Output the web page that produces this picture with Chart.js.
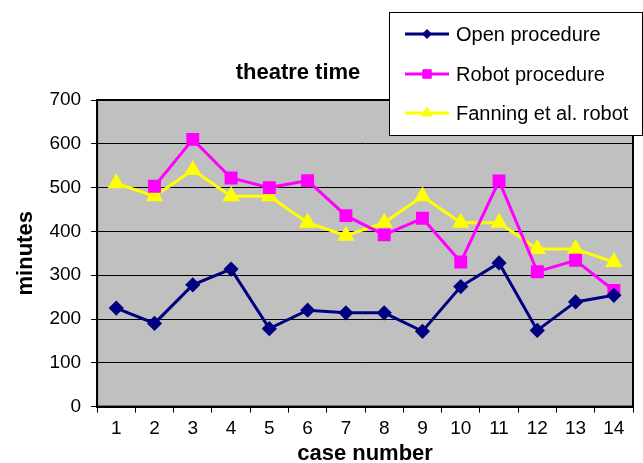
<!DOCTYPE html>
<html>
<head>
<meta charset="utf-8">
<script src="https://cdn.jsdelivr.net/npm/chart.js@4"></script>
<style>
  html, body { margin: 0; padding: 0; background: #fff; }
  #wrap { width: 643px; height: 463px; }
</style>
</head>
<body>
<div id="wrap"><canvas id="theatreChart" width="643" height="463"></canvas></div>
<script>
const caseNumbers = ["1", "2", "3", "4", "5", "6", "7", "8", "9", "10", "11", "12", "13", "14"];
const openProcedure = [225, 190, 278, 314, 178, 220, 214, 214, 172, 274, 328, 174, 239, 254];
const robotProcedure = [null, 503, 610, 522, 500, 516, 436, 392, 430, 330, 515, 308, 334, 265];
const fanningRobot = [510, 480, 540, 480, 480, 420, 390, 420, 480, 420, 420, 360, 360, 330];
const yTicks = [0, 100, 200, 300, 400, 500, 600, 700];

const FONT = "'Liberation Sans', Arial, sans-serif";

// grey plot area + frame, title and boxed legend like the original
const excelLook = {
  id: "excelLook",
  beforeDraw(chart) {
    const { ctx, chartArea: a } = chart;
    ctx.save();
    ctx.fillStyle = "#c0c0c0";
    ctx.fillRect(a.left, a.top, a.right - a.left, a.bottom - a.top);
    ctx.restore();
  },
  afterDraw(chart) {
    const { ctx, chartArea: a } = chart;
    ctx.save();
    ctx.strokeStyle = "#000";
    ctx.lineWidth = 2;
    ctx.strokeRect(a.left, a.top, a.right - a.left, a.bottom - a.top);

    ctx.fillStyle = "#000";
    ctx.font = "bold 22px " + FONT;
    ctx.textAlign = "center";
    ctx.textBaseline = "middle";
    ctx.fillText("theatre time", 298, 73);

    // legend box
    const bx = 389, by = 12, bw = 253, bh = 123;
    ctx.fillStyle = "#fff";
    ctx.fillRect(bx, by, bw, bh);
    ctx.lineWidth = 1;
    ctx.strokeStyle = "#000";
    ctx.strokeRect(bx + 0.5, by + 0.5, bw, bh);

    const rows = [34, 74, 113];
    chart.data.datasets.forEach((ds, i) => {
      const y = rows[i];
      ctx.strokeStyle = ds.borderColor;
      ctx.lineWidth = 3;
      ctx.beginPath();
      ctx.moveTo(405, y);
      ctx.lineTo(449, y);
      ctx.stroke();
      ctx.fillStyle = ds.pointBackgroundColor;
      ctx.strokeStyle = ds.borderColor;
      ctx.lineWidth = 1;
      Chart.helpers.drawPoint(ctx, {
        pointStyle: ds.pointStyle, radius: ds.pointRadius - 1, borderWidth: 1, rotation: 0
      }, 427, y);
      ctx.fillStyle = "#000";
      ctx.font = "20px " + FONT;
      ctx.textAlign = "left";
      ctx.fillText(ds.label, 456, y + 1);
    });
    ctx.restore();
  }
};

new Chart(document.getElementById("theatreChart"), {
  type: "line",
  data: {
    labels: caseNumbers,
    datasets: [{
      label: "Open procedure",
      data: openProcedure,
      borderColor: "#000080",
      backgroundColor: "#000080",
      pointBackgroundColor: "#000080",
      pointStyle: "rectRot",
      pointRadius: 5.5,
      borderWidth: 3,
      tension: 0
    }, {
      label: "Robot procedure",
      data: robotProcedure,
      borderColor: "#ff00ff",
      backgroundColor: "#ff00ff",
      pointBackgroundColor: "#ff00ff",
      pointStyle: "rect",
      pointRadius: 7,
      borderWidth: 3,
      tension: 0
    }, {
      label: "Fanning et al. robot",
      data: fanningRobot,
      borderColor: "#ffff00",
      backgroundColor: "#ffff00",
      pointBackgroundColor: "#ffff00",
      pointStyle: "triangle",
      pointRadius: 7,
      borderWidth: 3,
      tension: 0
    }]
  },
  options: {
    responsive: false,
    animation: false,
    layout: { padding: { top: 100, right: 6, left: 13, bottom: 0 } },
    plugins: {
      legend: { display: false },
      title: { display: false },
      tooltip: { enabled: false }
    },
    elements: { point: { borderWidth: 1 } },
    scales: {
      x: {
        offset: true,
        grid: { offset: true, drawOnChartArea: false, color: "#000", tickLength: 6 },
        border: { color: "#000", width: 2 },
        ticks: { color: "#000", font: { family: FONT, size: 19 }, padding: 5, maxRotation: 0, autoSkip: false },
        title: { display: true, text: "case number", color: "#000", font: { family: FONT, size: 22, weight: "bold", lineHeight: 0.8 }, padding: { top: 0, bottom: 0 } }
      },
      y: {
        min: 0,
        max: 700,
        afterBuildTicks(scale) { scale.ticks = yTicks.map(v => ({ value: v })); },
        grid: { color: "#000", lineWidth: 1, tickLength: 6 },
        border: { color: "#000", width: 2 },
        ticks: { color: "#000", font: { family: FONT, size: 19 }, padding: 10 },
        title: { display: true, text: "minutes", color: "#000", font: { family: FONT, size: 22, weight: "bold", lineHeight: 1.2 }, padding: { top: 0, bottom: 0 } }
      }
    }
  },
  plugins: [excelLook]
});
</script>
</body>
</html>
